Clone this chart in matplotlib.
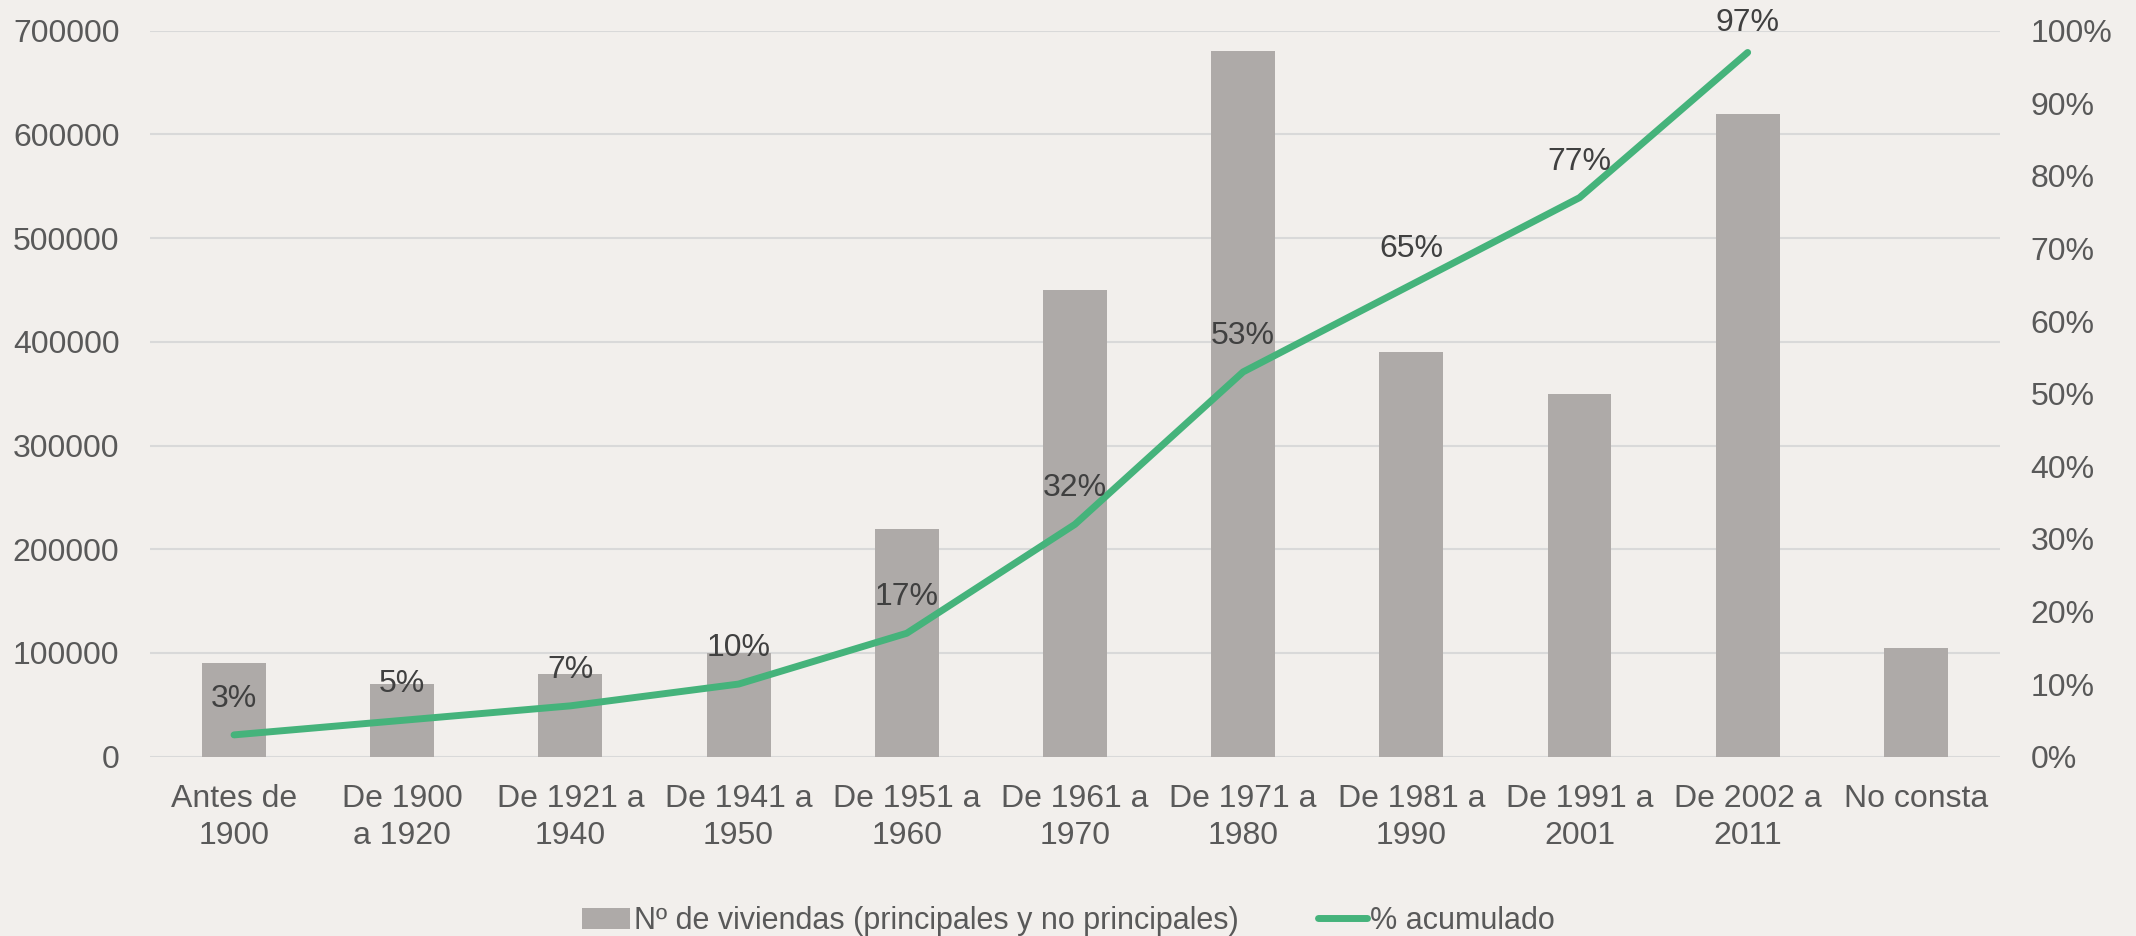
import numpy as np
import matplotlib.pyplot as plt
from matplotlib.ticker import FuncFormatter

# Datos
categorias = ["Antes de\n1900", "De 1900\na 1920", "De 1921 a\n1940", "De 1941 a\n1950",
              "De 1951 a\n1960", "De 1961 a\n1970", "De 1971 a\n1980", "De 1981 a\n1990",
              "De 1991 a\n2001", "De 2002 a\n2011", "No consta"]
viviendas = [90000, 70000, 80000, 100000, 220000, 450000, 680000, 390000, 350000, 620000, 105000]
acumulado = [3, 5, 7, 10, 17, 32, 53, 65, 77, 97]  # %, sin "No consta"

FONDO = "#F2EFEC"
GRIS = "#AEAAA8"
VERDE = "#45B37B"
TEXTO = "#595959"
REJILLA = "#D9D9D9"

plt.rcParams['font.family'] = ['Liberation Sans', 'DejaVu Sans']

fig = plt.figure(figsize=(21.36, 9.36), dpi=100, facecolor=FONDO)
ax = fig.add_axes([0.0702, 0.1916, 0.8661, 0.7756])
ax.set_facecolor(FONDO)

x = np.arange(len(categorias))
ax.bar(x, viviendas, width=0.38, color=GRIS, zorder=2,
       label="Nº de viviendas (principales y no principales)")
ax.set_ylim(0, 700000)
ax.set_yticks(np.arange(0, 700001, 100000))
ax.set_xlim(-0.5, len(categorias) - 0.5)
ax.set_xticks(x)
ax.set_xticklabels(categorias, linespacing=1.3)
ax.grid(axis='y', color=REJILLA, linewidth=1.5, zorder=0)
ax.tick_params(axis='y', length=0, pad=22, labelsize=23, labelcolor=TEXTO)
ax.tick_params(axis='x', length=0, pad=20, labelsize=23, labelcolor=TEXTO)
for s in ax.spines.values():
    s.set_visible(False)

ax2 = ax.twinx()
ax2.plot(x[:len(acumulado)], acumulado, color=VERDE, linewidth=5,
         solid_capstyle='round', zorder=3, label="% acumulado")
ax2.set_ylim(0, 100)
ax2.set_yticks(np.arange(0, 101, 10))
ax2.yaxis.set_major_formatter(FuncFormatter(lambda v, p: f"{int(v)}%"))
ax2.tick_params(axis='y', length=0, pad=22, labelsize=23, labelcolor=TEXTO)
for s in ax2.spines.values():
    s.set_visible(False)

for i, (xi, v) in enumerate(zip(x, acumulado)):
    dy = 21 if i == len(acumulado) - 1 else 26  # la última etiqueta queda más pegada
    ax2.annotate(f"{v}%", (xi, v), xytext=(0, dy), textcoords='offset points',
                 ha='center', va='center', fontsize=23, color="#404040")

h1, l1 = ax.get_legend_handles_labels()
h2, l2 = ax2.get_legend_handles_labels()
fig.legend(h1 + h2, l1 + l2, loc='center', bbox_to_anchor=(0.5, 0.016), ncol=2,
           frameon=False, fontsize=22, labelcolor=TEXTO, handlelength=1.6,
           handletextpad=0.1, columnspacing=2.6)

fig.savefig("out.png", dpi=100, facecolor=FONDO)
